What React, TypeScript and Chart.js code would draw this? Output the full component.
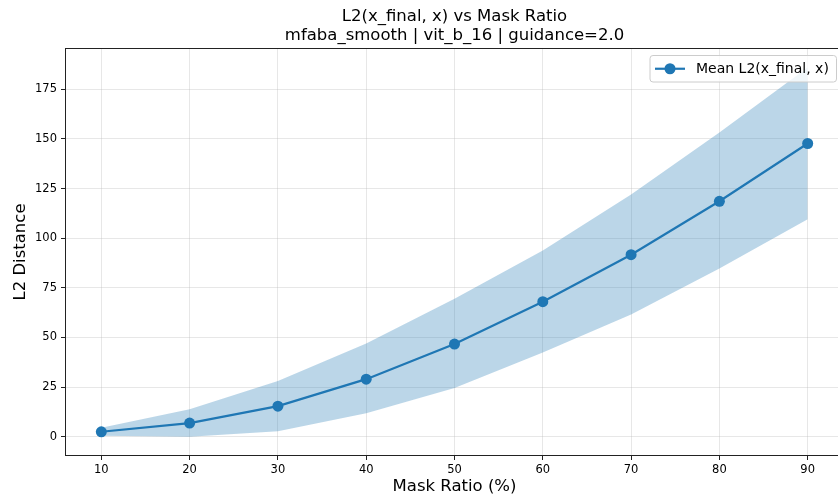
import React, { useEffect, useRef } from "react";
import { Chart, registerables } from "chart.js";

Chart.register(...registerables);

const maskRatios = [10, 20, 30, 40, 50, 60, 70, 80, 90];
const meanL2 = [2.5, 6.9, 15.4, 29.0, 46.7, 68.0, 91.7, 118.6, 147.7];
const upperL2 = [4.5, 13.8, 28.1, 46.9, 69.5, 93.8, 122.0, 153.3, 186.0];
const lowerL2 = [0.5, 0.0, 2.7, 11.8, 24.6, 42.4, 61.6, 84.8, 109.5];
const xTickValues = [10, 20, 30, 40, 50, 60, 70, 80, 90];
const yTickValues = [0, 25, 50, 75, 100, 125, 150, 175];

const titleLine1 = "L2(x_final, x) vs Mask Ratio";
const titleLine2 = "mfaba_smooth | vit_b_16 | guidance=2.0";
const xAxisLabel = "Mask Ratio (%)";
const yAxisLabel = "L2 Distance";
const legendLabel = "Mean L2(x_final, x)";

const BLUE = "#1f77b4";
const FONT = "'DejaVu Sans', sans-serif";

const decorPlugin = {
  id: "decor",
  afterDraw(chart: any) {
    const { ctx, chartArea } = chart;
    const { left, right, top, bottom } = chartArea;
    ctx.save();
    // spines
    ctx.strokeStyle = "#222";
    ctx.lineWidth = 1;
    ctx.strokeRect(Math.round(left) - 0.5, Math.round(top) - 0.5, Math.round(right - left) + 1, Math.round(bottom - top) + 1);

    const cx = (left + right) / 2;
    ctx.fillStyle = "#000";
    ctx.textAlign = "center";
    ctx.textBaseline = "middle";
    ctx.font = `16.5px ${FONT}`;
    ctx.fillText(titleLine1, cx, 17);
    ctx.fillText(titleLine2, cx, 36);
    ctx.fillText(xAxisLabel, cx, 487);
    ctx.save();
    ctx.translate(21, (top + bottom) / 2);
    ctx.rotate(-Math.PI / 2);
    ctx.fillText(yAxisLabel, 0, 0);
    ctx.restore();

    // legend
    const bx = right - 193;
    const by = top + 6.5;
    const bw = 186.5;
    const bh = 26.5;
    const r = 3;
    ctx.beginPath();
    ctx.moveTo(bx + r, by);
    ctx.lineTo(bx + bw - r, by);
    ctx.arcTo(bx + bw, by, bx + bw, by + r, r);
    ctx.lineTo(bx + bw, by + bh - r);
    ctx.arcTo(bx + bw, by + bh, bx + bw - r, by + bh, r);
    ctx.lineTo(bx + r, by + bh);
    ctx.arcTo(bx, by + bh, bx, by + bh - r, r);
    ctx.lineTo(bx, by + r);
    ctx.arcTo(bx, by, bx + r, by, r);
    ctx.closePath();
    ctx.fillStyle = "rgba(255,255,255,0.8)";
    ctx.fill();
    ctx.strokeStyle = "rgba(204,204,204,1)";
    ctx.lineWidth = 1;
    ctx.stroke();

    const ly = by + bh / 2;
    ctx.strokeStyle = BLUE;
    ctx.lineWidth = 2.2;
    ctx.beginPath();
    ctx.moveTo(bx + 5, ly);
    ctx.lineTo(bx + 35, ly);
    ctx.stroke();
    ctx.fillStyle = BLUE;
    ctx.beginPath();
    ctx.arc(bx + 20, ly, 5.5, 0, Math.PI * 2);
    ctx.fill();

    ctx.fillStyle = "#000";
    ctx.textAlign = "left";
    ctx.font = `14px ${FONT}`;
    ctx.fillText(legendLabel, bx + 46, ly + 0.5);
    ctx.restore();
  },
};

export default function App() {
  const canvasRef = useRef<HTMLCanvasElement | null>(null);

  useEffect(() => {
    if (!canvasRef.current) return;
    const toXY = (arr: number[]) => maskRatios.map((x, i) => ({ x, y: arr[i] }));
    const chart = new Chart(canvasRef.current, {
      type: "line",
      data: {
        datasets: [
          {
            label: legendLabel,
            data: toXY(meanL2),
            borderColor: BLUE,
            backgroundColor: BLUE,
            borderWidth: 2.2,
            pointRadius: 5.5,
            pointBorderWidth: 0,
            pointBackgroundColor: BLUE,
            fill: false,
            tension: 0,
          },
          {
            label: "lower",
            data: toXY(lowerL2),
            borderWidth: 0,
            borderColor: "rgba(0,0,0,0)",
            pointRadius: 0,
            fill: false,
            tension: 0,
          },
          {
            label: "upper",
            data: toXY(upperL2),
            borderWidth: 0,
            borderColor: "rgba(0,0,0,0)",
            backgroundColor: "rgba(31,119,180,0.3)",
            pointRadius: 0,
            fill: "-1",
            tension: 0,
          },
        ],
      },
      options: {
        animation: false,
        responsive: false,
        devicePixelRatio: 1,
        layout: { padding: { top: 49, right: 7, left: 0, bottom: 0 } },
        plugins: {
          legend: { display: false },
          title: { display: false },
          tooltip: { enabled: false },
        },
        scales: {
          x: {
            type: "linear",
            min: 6,
            max: 94,
            afterFit: (s: any) => {
              s.height = 42;
            },
            afterBuildTicks: (s: any) => {
              s.ticks = xTickValues.map((v) => ({ value: v }));
            },
            grid: {
              color: "rgba(176,176,176,0.3)",
              lineWidth: 1,
              drawTicks: true,
              tickLength: 5,
              tickColor: "#222",
              tickWidth: 1,
            },
            border: { display: false },
            ticks: {
              color: "#000",
              padding: 3,
              maxRotation: 0,
              font: { family: FONT, size: 11.5 },
            },
          },
          y: {
            type: "linear",
            min: -9.2,
            max: 195.3,
            afterFit: (s: any) => {
              s.width = 66;
            },
            afterBuildTicks: (s: any) => {
              s.ticks = yTickValues.map((v) => ({ value: v }));
            },
            grid: {
              color: "rgba(176,176,176,0.3)",
              lineWidth: 1,
              drawTicks: true,
              tickLength: 5,
              tickColor: "#222",
              tickWidth: 1,
            },
            border: { display: false },
            ticks: {
              color: "#000",
              padding: 4,
              font: { family: FONT, size: 11.5 },
            },
          },
        },
      },
      plugins: [decorPlugin],
    });
    return () => chart.destroy();
  }, []);

  return (
    <div style={{ position: "fixed", left: 0, top: 0, width: 838, height: 497, overflow: "hidden", background: "#fff" }}>
      <canvas ref={canvasRef} width={850} height={497} style={{ display: "block", width: 850, height: 497 }} />
    </div>
  );
}
